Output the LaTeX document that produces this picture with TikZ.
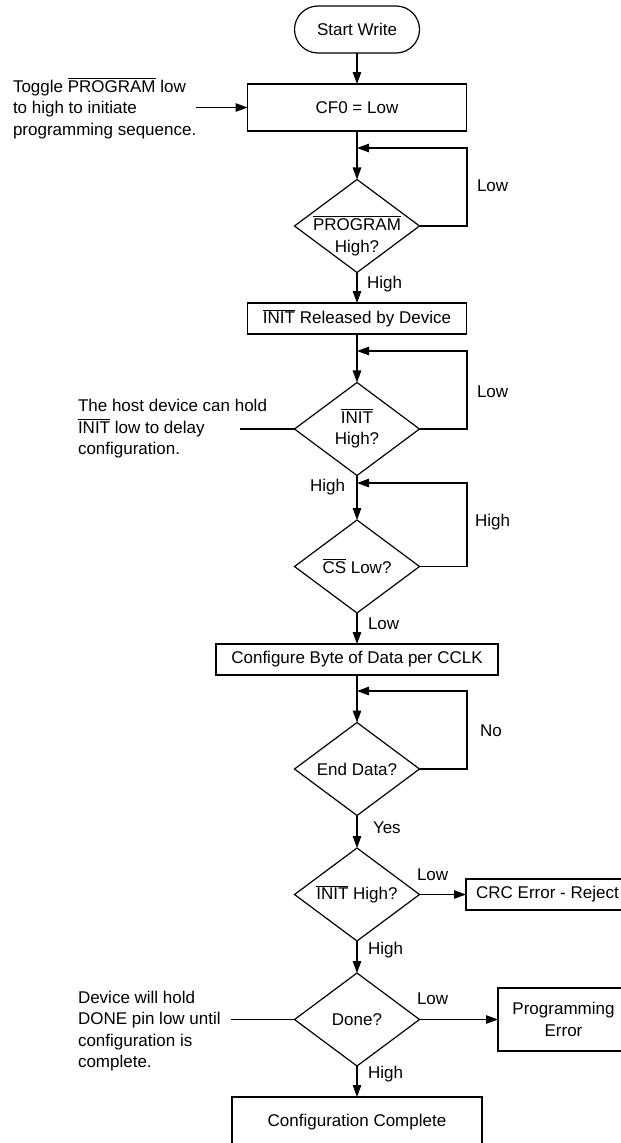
\documentclass[tikz,border=0pt]{standalone}
\usepackage{fontspec}
\setmainfont{Liberation Sans}
\usetikzlibrary{arrows.meta,shapes.geometric}
% active-low signal name: text with a bar above it
\newcommand{\ovl}[1]{\vbox{\hrule height 0.9pt\kern1.4pt\hbox{#1}}}
\begin{document}
\begin{tikzpicture}[x=1pt,y=-1pt,
  txt/.style={font=\fontsize{17pt}{21.5pt}\selectfont, inner sep=0pt, outer sep=0pt},
  term/.style={txt, draw, line width=1.2pt, rounded corners=23.5pt,
    minimum width=125pt, minimum height=47pt},
  proc/.style={txt, draw, line width=1.2pt, rectangle},
  dec/.style={draw, line width=1.2pt, diamond, inner sep=0pt, outer sep=0pt,
    minimum width=125pt, minimum height=93pt},
  lbl/.style={txt, anchor=west},
  note/.style={txt, align=left, anchor=west},
  flow/.style={line width=1.2pt, -{Triangle[length=12pt,width=8.5pt]}},
  plain/.style={line width=1.2pt}
]
\useasboundingbox (0,0) rectangle (621,1143);

% main column
\node[term] (start) at (357,29.5) {Start Write};
\node[proc, minimum width=219pt, minimum height=47pt] (cf0) at (357,107.5) {CF0 = Low};
\node[dec] (d1) at (357,226) {};
\node[txt, align=center] (d1t) at (357,236) {\ovl{PROGRAM}\\High?};
\node[proc, minimum width=219pt, minimum height=31pt] (rel) at (357,318.5) {\ovl{INIT} Released by Device};
\node[dec] (d2) at (357,429) {};
\node[txt, align=center] (d2t) at (357,429) {\ovl{INIT}\\High?};
\node[dec] (d3) at (357,566.5) {};
\node[txt] (d3t) at (357,566) {\ovl{CS} Low?};
\node[proc, minimum width=282pt, minimum height=31pt] (cfg) at (357,659.5) {Configure Byte of Data per CCLK};
\node[dec] (d4) at (357,769) {};
\node[txt] (d4t) at (357,769) {End Data?};
\node[dec] (d5) at (357,894.5) {};
\node[txt] (d5t) at (357,894.5) {\ovl{INIT} High?};
\node[dec] (d6) at (357,1019.5) {};
\node[txt] (d6t) at (357,1019.5) {Done?};
\node[proc, minimum width=250pt, minimum height=50pt] (done) at (357,1122) {Configuration Complete};

% error exits
\node[proc, minimum width=163pt, minimum height=31pt] (crc) at (547.5,894.5) {CRC Error - Reject};
\node[proc, align=center, minimum width=131pt, minimum height=63pt] (perr) at (563.5,1019.5) {Programming\\Error};

% side notes
\node[note] (n1) at (13,108.5) {Toggle \ovl{PROGRAM} low\\to high to initiate\\programming sequence.};
\node[note] (n2) at (78,429) {The host device can hold\\\ovl{INIT} low to delay\\configuration.};
\node[note] (n3) at (78,1031) {Device will hold\\DONE pin low until\\configuration is\\complete.};
\coordinate (n1e) at (196,107.5);
\coordinate (n2e) at (240,429);
\coordinate (n3e) at (231,1019.5);

% loop-back join points
\coordinate (j1) at (357,148);
\coordinate (j2) at (357,351);
\coordinate (j3) at (357,483);
\coordinate (j4) at (357,691);

% main flow
\draw[flow] (start) -- (cf0);
\draw[flow] (cf0) -- (d1);
\draw[flow] (d1) -- (rel);
\draw[flow] (rel) -- (d2);
\draw[flow] (d2) -- (d3);
\draw[flow] (d3) -- (cfg);
\draw[flow] (cfg) -- (d4);
\draw[flow] (d4) -- (d5);
\draw[flow] (d5) -- (d6);
\draw[flow] (d6) -- (done);

% loops back
\draw[flow] (d1.east) -- ++(47.5,0) |- (j1);
\draw[flow] (d2.east) -- ++(47.5,0) |- (j2);
\draw[flow] (d3.east) -- ++(47.5,0) |- (j3);
\draw[flow] (d4.east) -- ++(47.5,0) |- (j4);

% exits
\draw[flow] (d5.east) -- (crc.west);
\draw[flow] (d6.east) -- (perr.west);

% note connectors
\draw[flow] (n1e) -- (cf0.west);
\draw[plain] (n2e) -- (d2.west);
\draw[plain] (n3e) -- (d6.west);

% branch labels
\node[lbl] (l1) at (477,186) {Low};
\node[lbl] (h1) at (367,284) {High};
\node[lbl] (l2) at (477,392) {Low};
\node[txt, anchor=east] (h2) at (345,487) {High};
\node[lbl] (h3) at (475,522) {High};
\node[lbl] (l3) at (368,624) {Low};
\node[lbl] (no4) at (480,731) {No};
\node[lbl] (y4) at (373,828) {Yes};
\node[lbl] (l5) at (417,875) {Low};
\node[lbl] (h5) at (368,950) {High};
\node[lbl] (l6) at (417,999) {Low};
\node[lbl] (h6) at (368,1074) {High};
\end{tikzpicture}
\end{document}
